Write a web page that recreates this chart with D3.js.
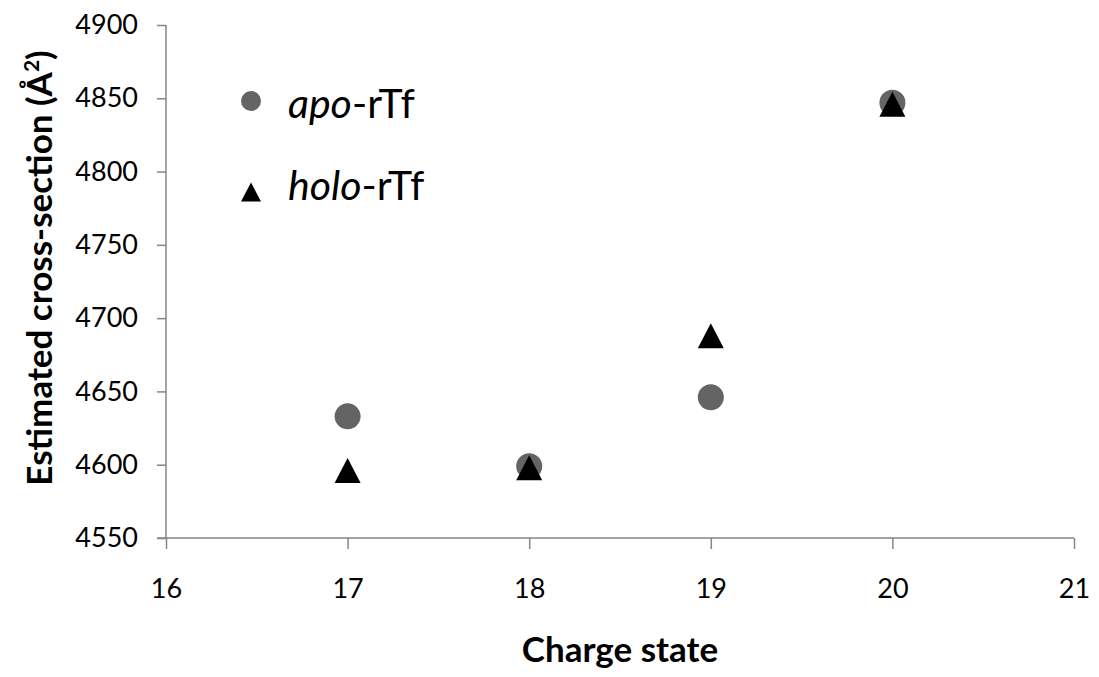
<!DOCTYPE html>
<html><head><meta charset="utf-8">
<script src="https://cdn.jsdelivr.net/npm/d3@7"></script>
<style>body{margin:0;background:#fff}svg{display:block}text{font-family:Lato,"Open Sans",sans-serif}</style>
</head><body><svg id="c" width="1099" height="677"></svg>
<script>
const chargeStates = [17, 18, 19, 20];
const apoValues = [4633, 4599, 4646, 4847];
const holoValues = [4596, 4598, 4688, 4846];
const xTicks = [16, 17, 18, 19, 20, 21];
const yTicks = [4550, 4600, 4650, 4700, 4750, 4800, 4850, 4900];
const seriesNames = ["apo", "holo"];

const svg = d3.select("#c");
const x = d3.scaleLinear().domain([16, 21]).range([166, 1074]);
const y = d3.scaleLinear().domain([4550, 4900]).range([538, 25]);
const axisColor = "#868686";

// Y axis
const yAxis = svg.append("g").attr("transform", "translate(166,0)")
  .call(d3.axisLeft(y).tickValues(yTicks).tickSize(9).tickPadding(19).tickFormat(d3.format("d")));
yAxis.select(".domain").attr("stroke", axisColor).attr("stroke-width", 1.5).attr("d", `M0,${y(4900)}V${y(4550)}`);
yAxis.selectAll(".tick line").attr("stroke", axisColor).attr("stroke-width", 1.5);
yAxis.selectAll(".tick text").attr("font-size", 27).attr("fill", "#000").attr("font-family", "Lato");

// X axis
const xAxis = svg.append("g").attr("transform", "translate(0,538)")
  .call(d3.axisBottom(x).tickValues(xTicks).tickSize(11).tickPadding(30).tickFormat(d3.format("d")));
xAxis.select(".domain").attr("stroke", axisColor).attr("stroke-width", 1.5).attr("d", `M157,0H${x(21)}`);
xAxis.selectAll(".tick line").attr("stroke", axisColor).attr("stroke-width", 1.5);
xAxis.selectAll(".tick text").attr("font-size", 27).attr("fill", "#000").attr("font-family", "Lato");

// Data: apo circles
svg.append("g").selectAll("circle").data(chargeStates).join("circle")
  .attr("cx", d => x(d)).attr("cy", (d, i) => y(apoValues[i])).attr("r", 13)
  .attr("fill", "#646464");

// holo triangles
const tri = (cx, cy, w, h) => `M${cx},${cy - h/2}L${cx + w/2},${cy + h/2}L${cx - w/2},${cy + h/2}Z`;
svg.append("g").selectAll("path").data(chargeStates).join("path")
  .attr("d", (d, i) => tri(x(d), y(holoValues[i]), 26, 25))
  .attr("fill", "#000");

// Legend
const lg = svg.append("g");
lg.append("circle").attr("cx", 251).attr("cy", 101).attr("r", 10).attr("fill", "#646464");
lg.append("path").attr("d", tri(251, 192, 20, 19)).attr("fill", "#000");
const t1 = lg.append("text").attr("x", 288).attr("y", 118).attr("font-size", 41);
t1.append("tspan").attr("font-style", "italic").text("apo");
t1.append("tspan").text("-rTf");
const t2 = lg.append("text").attr("x", 288).attr("y", 200).attr("font-size", 41);
t2.append("tspan").attr("font-style", "italic").text("holo");
t2.append("tspan").text("-rTf");

// Axis titles
svg.append("text").attr("x", 620).attr("y", 662).attr("text-anchor", "middle")
  .attr("font-size", 35).attr("font-weight", "bold").text("Charge state");
const yt = svg.append("text").attr("transform", "translate(52,268) rotate(-90)")
  .attr("text-anchor", "middle").attr("font-size", 35).attr("font-weight", "bold");
yt.append("tspan").text("Estimated cross-section (Å");
yt.append("tspan").attr("font-size", 21).attr("dy", -13).text("2");
yt.append("tspan").attr("dy", 13).text(")");
</script></body></html>
